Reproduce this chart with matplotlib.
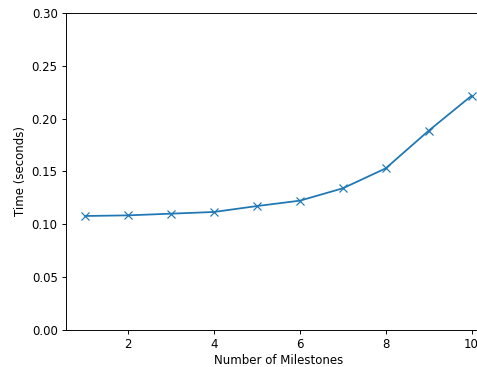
import matplotlib
matplotlib.use("Agg")
import matplotlib.pyplot as plt

# Data
milestones = [1, 2, 3, 4, 5, 6, 7, 8, 9, 10]
times = [0.1079, 0.1085, 0.1101, 0.1117, 0.1173, 0.1224, 0.1341, 0.1530, 0.1886, 0.2217]

DPI = 85
fig = plt.figure(figsize=(478 / DPI, 367 / DPI), dpi=DPI)
# right edge of the axes runs past the figure, as in the cropped reference
ax = fig.add_axes([0.138, 0.1008, 0.889, 0.8638])

ax.plot(milestones, times, marker="x", color="#1f77b4")
ax.set_ylim(0, 0.30)
ax.set_xticks([2, 4, 6, 8, 10])
ax.set_xlabel("Number of Milestones", labelpad=2.5)
ax.set_ylabel("Time (seconds)")

fig.savefig("out.png", dpi=DPI)
